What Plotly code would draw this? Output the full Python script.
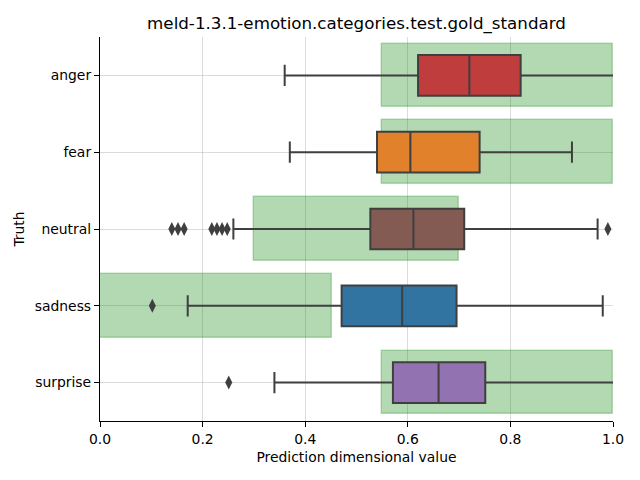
import plotly.graph_objects as go

categories = ["anger", "fear", "neutral", "sadness", "surprise"]
colors = ["#c03d3e", "#e1812c", "#845b53", "#3274a1", "#9372b2"]

q1 = [0.62, 0.54, 0.527, 0.471, 0.571]
median = [0.72, 0.605, 0.611, 0.589, 0.66]
q3 = [0.82, 0.74, 0.71, 0.695, 0.751]
lowerfence = [0.36, 0.37, 0.26, 0.171, 0.34]
upperfence = [1.01, 0.92, 0.97, 0.98, 1.01]

outliers = {
    "neutral": [0.14, 0.152, 0.164, 0.218, 0.228, 0.238, 0.248, 0.99],
    "sadness": [0.102],
    "surprise": [0.251],
}

gold_low = [0.55, 0.55, 0.30, 0.0, 0.55]
gold_high = [1.0, 1.0, 0.70, 0.453, 1.0]

fig = go.Figure()

fig.add_trace(go.Bar(
    y=categories,
    x=[h - l for l, h in zip(gold_low, gold_high)],
    base=gold_low,
    orientation="h",
    width=0.83,
    marker=dict(color="rgba(0,128,0,0.3)", line=dict(color="rgba(0,128,0,0.25)", width=1.5)),
    showlegend=False,
    hoverinfo="skip",
))

for i, cat in enumerate(categories):
    fig.add_trace(go.Box(
        y=[cat],
        q1=[q1[i]], median=[median[i]], q3=[q3[i]],
        lowerfence=[lowerfence[i]], upperfence=[upperfence[i]],
        orientation="h",
        width=0.53,
        whiskerwidth=0.52,
        fillcolor=colors[i],
        line=dict(color="#3f3f3f", width=2),
        boxpoints=False,
        showlegend=False,
    ))

for cat, vals in outliers.items():
    fig.add_trace(go.Scatter(
        x=vals, y=[cat] * len(vals),
        mode="markers",
        marker=dict(symbol="diamond-tall", size=10, color="#3f3f3f"),
        showlegend=False,
    ))

font = "DejaVu Sans"
fig.update_layout(
    width=640, height=480,
    margin=dict(l=100, r=27, t=37, b=59),
    paper_bgcolor="white", plot_bgcolor="white",
    font=dict(family=font, size=13.9, color="black"),
    title=dict(text="meld-1.3.1-emotion.categories.test.gold_standard",
               x=(100 + 613) / 2 / 640, xanchor="center",
               y=1 - 23 / 480, yanchor="middle",
               font=dict(size=16.7, family=font)),
    bargap=0,
)
fig.update_xaxes(
    range=[0, 1], tickvals=[0, 0.2, 0.4, 0.6, 0.8, 1.0], tickformat=".1f",
    showgrid=True, gridcolor="rgba(176,176,176,0.45)", gridwidth=1,
    showline=True, linecolor="black", linewidth=1.2,
    ticks="outside", ticklen=5, tickcolor="black",
    zeroline=False, layer="above traces",
    title=dict(text="Prediction dimensional value", standoff=6, font=dict(size=13.9)),
)
fig.update_yaxes(
    type="category", categoryorder="array", categoryarray=categories,
    range=[4.5, -0.5],
    showgrid=True, gridcolor="rgba(176,176,176,0.45)", gridwidth=1,
    showline=True, linecolor="black", linewidth=1.2,
    ticks="outside", ticklen=5, tickcolor="black",
    zeroline=False, layer="above traces",
    title=dict(text="Truth", standoff=6, font=dict(size=13.9)),
)

fig.write_html("out.html", config={"displayModeBar": False},
               post_script="document.body.style.margin='0';document.body.style.overflow='hidden';")
